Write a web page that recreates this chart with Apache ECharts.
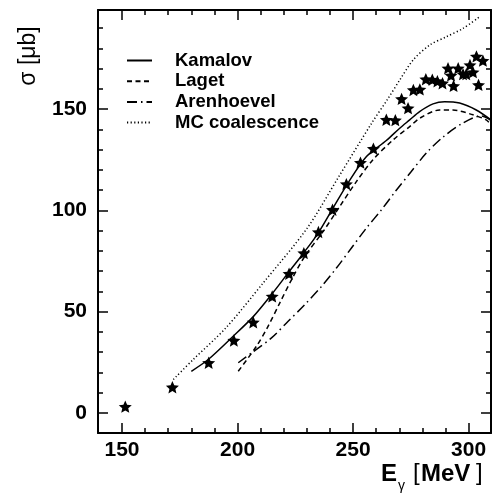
<!DOCTYPE html>
<html>
<head>
<meta charset="utf-8">
<script src="https://cdn.jsdelivr.net/npm/echarts@6/dist/echarts.min.js"></script>
<style>
html,body{margin:0;padding:0;background:#fff;}
#chart{width:492px;height:497px;}
</style>
</head>
<body>
<div id="chart"></div>
<script>
// ---- data ----
var starX = [151.4,171.8,187.5,198.4,206.8,215.0,222.3,228.7,235.0,241.1,247.1,253.2,258.8,264.4,268.3,271.0,273.8,276.1,278.9,281.5,284.3,286.5,288.7,291.1,292.4,293.5,295.5,297.6,299.0,300.6,301.9,303.4,304.3,306.2];
var starY = [3.0,12.6,24.7,35.7,44.7,57.5,68.7,78.9,89.3,100.3,113.0,123.6,130.5,144.8,144.6,155.1,150.5,159.5,159.8,164.8,164.6,163.8,162.8,170.2,166.7,161.5,170.2,167.3,167.3,171.8,168.3,176.1,162.0,174.0];

var kamX = [180,187.3,198.1,206.8,214.7,221.9,229.1,234.9,241.3,247.8,255.8,264.4,270.2,274.5,278.8,284.6,289.6,296.1,303.3,309.7];
var kamY = [20.5,26.3,37.8,47.5,58.4,69.1,79.7,88.8,101.1,113.5,126.6,134.5,140.6,144.7,148.8,152.6,153.7,153.0,149.6,144.7];

var lagX = [200.3,208.2,213.2,218.3,223.4,229.1,237.0,244.2,251.5,258.6,267.3,274.5,278.8,287.5,293.2,301.9,307.6,309.7];
var lagY = [20.5,32.9,42.7,54.3,65.8,77.3,89.5,101.9,114.3,125.0,134.8,141.4,145.5,149.6,149.6,147.2,144.7,142.2];

var areX = [200.3,206.1,214.7,221.9,229.1,236.4,242.8,249.3,255.8,262.3,268.6,275.2,281.7,288.9,297.5,305.5,309.7];
var areY = [24.7,29.6,37.0,45.2,53.4,62.5,71.5,81.4,91.3,100.3,109.8,119.2,128.3,136.2,143.1,146.7,144.5];

var mcX = [172.2,180.8,195.0,211.0,230.0,244.0,258.0,265.0,270.2,276.0,283.2,290.4,297.6,304.8];
var mcY = [16.4,26.3,42.0,64.0,91.0,117.0,143.0,155.0,164.4,174.3,181.7,185.8,189.9,195.7];

var seriesNames = ['Kamalov','Laget','Arenhoevel','MC coalescence'];
var xMajor = [150,200,250,300];
var xMinor = [160,170,180,190,210,220,230,240,260,270,280,290];
var yMajor = [0,50,100,150];
var yMinor = [10,20,30,40,60,70,80,90,110,120,130,140,160,170,180,190];
var XMIN = 139.6, XMAX = 309.7, YMIN = -10, YMAX = 199;

// ---- helpers ----
function pairs(xs, ys){ return xs.map(function(x,i){ return [x, ys[i]]; }); }
function starPath(){
  var pts = [];
  for (var k=0;k<10;k++){
    var r = (k%2===0) ? 50 : 23;
    var a = -Math.PI/2 + k*Math.PI/5;
    pts.push((50 + r*Math.cos(a)).toFixed(2) + ' ' + (50 + r*Math.sin(a)).toFixed(2));
  }
  return 'path://M' + pts.join(' L') + ' Z';
}
var FONT = '"Liberation Sans", Arial, sans-serif';
var axisLineStyle = {color:'#000', width:2};
function xAx(pos, vals, len, main){
  return {
    type:'value', min:XMIN, max:XMAX, position:pos,
    axisLine:{show:main, onZero:false, lineStyle:axisLineStyle},
    axisTick:{show:true, inside:true, length:len, customValues:vals, lineStyle:{color:'#000', width:1.5}},
    axisLabel:{show: main && pos==='bottom', customValues:xMajor, margin:7, fontSize:21, fontWeight:'bold', fontFamily:FONT, color:'#000'},
    splitLine:{show:false}
  };
}
function yAx(pos, vals, len, main){
  return {
    type:'value', min:YMIN, max:YMAX, position:pos,
    axisLine:{show:main, onZero:false, lineStyle:axisLineStyle},
    axisTick:{show:true, inside:true, length:len, customValues:vals, lineStyle:{color:'#000', width:1.5}},
    axisLabel:{show: main && pos==='left', customValues:yMajor, margin:11, fontSize:21, fontWeight:'bold', fontFamily:FONT, color:'#000'},
    splitLine:{show:false}
  };
}
function lineSeries(name, xs, ys, type){
  return {
    name:name, type:'line', data:pairs(xs, ys), xAxisIndex:0, yAxisIndex:0,
    symbol:'none', smooth:0.3, clip:true,
    lineStyle:{color:'#000', width:1.5, type:type},
    itemStyle:{color:'#000'}, z:3
  };
}
function txt(x, y, s, size, weight, align){
  return {type:'text', x:x, y:y, style:{text:s, fontSize:size, fontWeight:weight, fontFamily:FONT, fill:'#000', align:align||'left', verticalAlign:'middle'}};
}

var chart = echarts.init(document.getElementById('chart'), null, {renderer:'canvas'});
chart.setOption({
  animation:false,
  backgroundColor:'#fff',
  grid:{left:98, right:1, top:10, bottom:64, containLabel:false},
  xAxis:[ xAx('bottom', xMajor, 10, true), xAx('bottom', xMinor, 5, false), xAx('top', xMajor, 10, true), xAx('top', xMinor, 5, false) ],
  yAxis:[ yAx('left', yMajor, 10, true), yAx('left', yMinor, 5, false), yAx('right', yMajor, 10, true), yAx('right', yMinor, 5, false) ],
  legend:{
    orient:'vertical', left:121, top:46, padding:5, itemWidth:25, itemHeight:12, itemGap:1.7,
    selectedMode:false, data:seriesNames,
    itemStyle:{color:'rgba(0,0,0,0)', borderColor:'rgba(0,0,0,0)', borderWidth:0, opacity:0},
    textStyle:{fontSize:18.5, fontWeight:'bold', fontFamily:FONT, color:'#000', padding:[0,0,0,18], lineHeight:18}
  },
  series:[
    lineSeries(seriesNames[0], kamX, kamY, 'solid'),
    lineSeries(seriesNames[1], lagX, lagY, [5,3.5]),
    lineSeries(seriesNames[2], areX, areY, [10,4,1.5,4]),
    lineSeries(seriesNames[3], mcX, mcY, [1.2,2.4]),
    {
      name:'data', type:'scatter', data:pairs(starX, starY), xAxisIndex:0, yAxisIndex:0,
      symbol:starPath(), symbolSize:13, symbolKeepAspect:true,
      itemStyle:{color:'#000', opacity:1}, z:5
    }
  ],
  graphic:[
    {type:'text', x:29, y:56, rotation:Math.PI/2,
     style:{text:'σ [μb]', fontSize:23, fontFamily:FONT, fill:'#000', align:'center', verticalAlign:'middle'}},
    txt(381, 474, 'E', 24, 'bold'),
    txt(398, 486, 'γ', 14, 'normal'),
    txt(413, 473, '[', 24, 'normal'),
    txt(421, 474, 'MeV', 24, 'bold'),
    txt(476, 473, ']', 24, 'normal')
  ]
});
</script>
</body>
</html>
